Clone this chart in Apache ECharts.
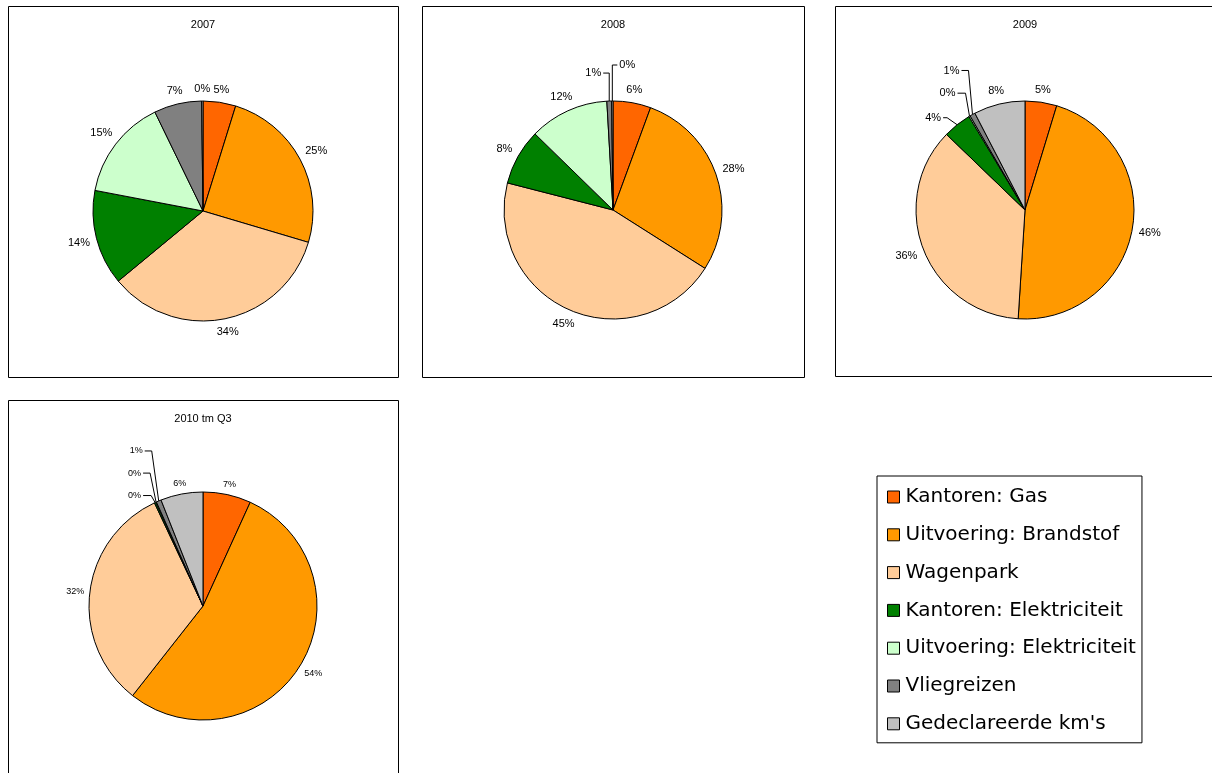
<!DOCTYPE html>
<html>
<head>
<meta charset="utf-8">
<script src="https://cdn.jsdelivr.net/npm/echarts@6/dist/echarts.min.js"></script>
<style>
html,body{margin:0;padding:0;background:#fff;}
#c{width:1212px;height:773px;}
</style>
</head>
<body>
<div id="c"></div>
<script>
const categories = ['Kantoren: Gas', 'Uitvoering: Brandstof', 'Wagenpark', 'Kantoren: Elektriciteit', 'Uitvoering: Elektriciteit', 'Vliegreizen', "Gedeclareerde km's"];
const colors = ['#FF6600', '#FF9900', '#FFCC99', '#008000', '#CCFFCC', '#808080', '#C0C0C0'];
const chartTitles = ['2007', '2008', '2009', '2010 tm Q3'];
const values2007 = [4.8, 24.8, 34.4, 14.0, 14.8, 7.0, 0.2];
const values2008 = [5.6, 28.4, 45.0, 8.3, 11.8, 0.7, 0.2];
const values2009 = [4.7, 46.3, 36.2, 4.2, 0.2, 0.8, 7.6];
const values2010 = [6.8, 53.8, 32.4, 0.2, 0.1, 0.7, 6.0];

const allValues = [values2007, values2008, values2009, values2010];

// layout / style settings
const centers = [[203, 211], [613, 210], [1025, 210], [203, 606]];
const radii = [110, 109, 109, 114];
const labelSizes = [11, 11, 11, 9];
const labelGap = [6, 6, 6, 5];
const boxes = [[8.5, 6.5, 390, 371], [422.5, 6.5, 382, 371], [835.5, 6.5, 400, 370], [8.5, 400.5, 390, 400]];
const titleY = [25, 25, 25, 419];
// leader lines for tiny slices: [chart][category] -> {rise, slant, run, side}
const leaders = [
  {},
  { 5: { rise: 28, slant: 0, run: 6, side: -1 }, 6: { rise: 36, slant: 0, run: 5, side: 1 } },
  { 3: { rise: 7, slant: 10, run: 4, side: -1 }, 4: { rise: 23, slant: 4, run: 8, side: -1 }, 5: { rise: 44, slant: 4, run: 7, side: -1 } },
  { 3: { rise: 7, slant: 4, run: 8, side: -1 }, 4: { rise: 29, slant: 6, run: 7, side: -1 }, 5: { rise: 50, slant: 7, run: 7, side: -1 } }
];

const FONT = '"Liberation Sans", Arial, sans-serif';

function midAngles(vals) {
  const total = vals.reduce((a, b) => a + b, 0);
  let cum = 0;
  return vals.map(v => {
    const m = (cum + v / 2) / total * 2 * Math.PI; // clockwise from 12 o'clock
    cum += v;
    return m;
  });
}
const mids = allValues.map(midAngles);

const series = allValues.map((vals, i) => {
  return {
    type: 'pie',
    name: chartTitles[i],
    center: centers[i],
    radius: radii[i],
    startAngle: 90,
    clockwise: true,
    animation: false,
    avoidLabelOverlap: false,
    itemStyle: { borderColor: '#000', borderWidth: 1 },
    emphasis: { disabled: true },
    label: {
      show: true,
      position: 'outside',
      color: '#000',
      fontFamily: FONT,
      fontSize: labelSizes[i],
      formatter: p => Math.round(p.percent) + '%'
    },
    labelLine: { show: false, length: 10, length2: 2, lineStyle: { color: '#000', width: 1 } },
    labelLayout: function (params) {
      const k = params.dataIndex;
      const a = mids[i][k];
      const ux = Math.sin(a), uy = -Math.cos(a);
      const c = centers[i], r = radii[i];
      const p0 = [c[0] + r * ux, c[1] + r * uy];
      const ld = leaders[i][k];
      if (ld) {
        const p1 = [p0[0] + ld.side * ld.slant, p0[1] - ld.rise];
        const p2 = [p1[0] + ld.side * ld.run, p1[1]];
        return {
          x: p2[0] + ld.side * 2,
          y: p2[1],
          align: ld.side < 0 ? 'right' : 'left',
          verticalAlign: 'middle',
          labelLinePoints: [p0, p1, p2]
        };
      }
      const w = params.labelRect.width, h = params.labelRect.height;
      const ext = Math.abs(ux) * w / 2 + Math.abs(uy) * h / 2 + labelGap[i];
      return {
        x: p0[0] + ux * ext,
        y: p0[1] + uy * ext,
        align: 'center',
        verticalAlign: 'middle'
      };
    },
    data: vals.map((v, k) => {
      const d = { value: v, name: categories[k], itemStyle: { color: colors[k] } };
      if (leaders[i][k]) {
        d.labelLine = { show: true };
      }
      return d;
    })
  };
});

const graphics = [];
boxes.forEach((b, i) => {
  graphics.push({ type: 'rect', shape: { x: b[0], y: b[1], width: b[2], height: b[3] }, style: { fill: '#fff', stroke: '#000', lineWidth: 1 }, z: -10, silent: true });
  graphics.push({ type: 'text', x: centers[i][0], y: titleY[i], style: { text: chartTitles[i], font: '11px ' + FONT, fill: '#000', textAlign: 'center', textVerticalAlign: 'middle' }, z: 10, silent: true });
});

const chart = echarts.init(document.getElementById('c'));
chart.setOption({
  backgroundColor: '#fff',
  animation: false,
  color: colors,
  graphic: graphics,
  legend: {
    orient: 'vertical',
    left: 877,
    top: 476,
    padding: [10, 6, 8, 10],
    backgroundColor: '#fff',
    borderColor: '#000',
    borderWidth: 1,
    itemWidth: 12,
    itemHeight: 12,
    itemGap: 15.8,
    selectedMode: false,
    icon: 'rect',
    itemStyle: { borderColor: '#000', borderWidth: 1 },
    textStyle: { fontFamily: '"DejaVu Sans", sans-serif', fontSize: 20, color: '#000', lineHeight: 22, padding: [0, 0, 0, 1] },
    data: categories
  },
  series: series
});
</script>
</body>
</html>
